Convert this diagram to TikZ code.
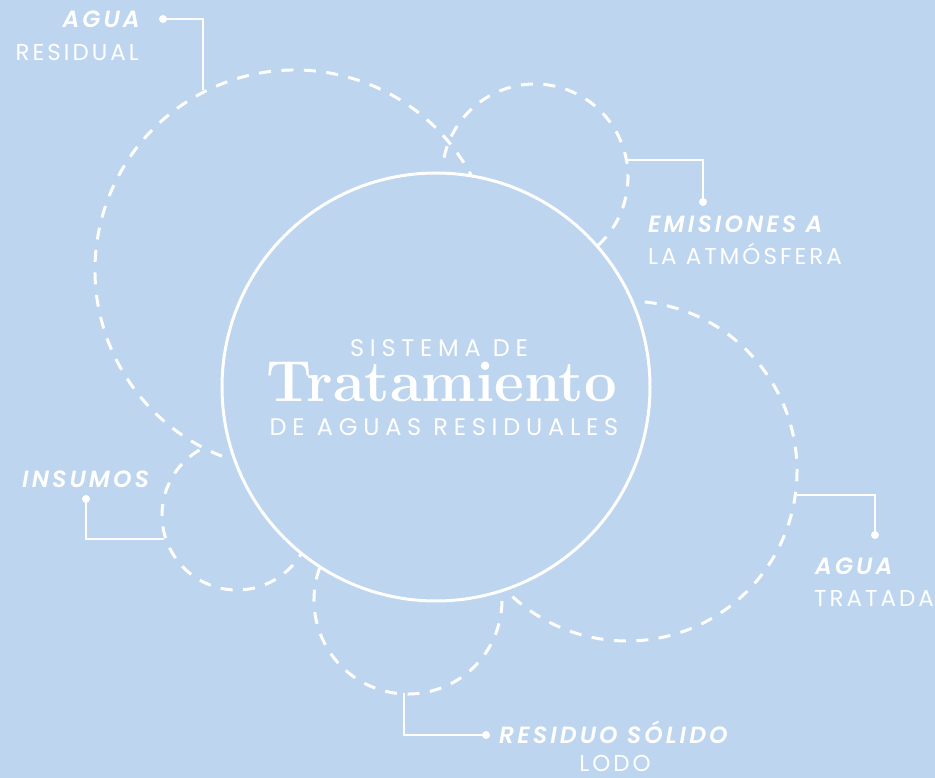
\documentclass[tikz,border=0pt]{standalone}
\usepackage{fontspec}
\setsansfont{Poppins}
\newfontfamily\spaced{Poppins}[LetterSpace=24]
\newfontfamily\lblreg{Poppins}[LetterSpace=13]
\newfontfamily\lblbold{Poppins SemiBold Italic}[LetterSpace=13]
\definecolor{bg}{RGB}{189,213,239}
\begin{document}
\begin{tikzpicture}[x=1pt,y=1pt,
  dashc/.style={white, line width=3pt, dash pattern=on 12pt off 10.5pt},
  conn/.style={white, line width=2pt},
  dotc/.style={circle, fill=white, inner sep=0pt, minimum size=8pt},
  lblB/.style={text=white, font=\lblbold\fontsize{23.5}{26}\selectfont, inner sep=0pt},
  lblR/.style={text=white, font=\lblreg\fontsize{23}{26}\selectfont, inner sep=0pt},
  ctr/.style={text=white, font=\spaced\fontsize{24}{26}\selectfont, inner sep=0pt, text depth=0pt},
]
\fill[bg] (0,0) rectangle (935,-778);
\useasboundingbox (0,0) rectangle (935,-778);

% dashed circles (arcs)
\draw[dashc] (295,-270) ++(26:200pt) arc[start angle=26, end angle=250, radius=200pt];
\draw[dashc] (535,-177) ++(168:93pt) arc[start angle=168, end angle=-50, radius=93pt];
\draw[dashc] (627,-471) ++(84:170pt) arc[start angle=84, end angle=-135, radius=170pt];
\draw[dashc] (408,-600) ++(160:94pt) arc[start angle=160, end angle=366, radius=94pt];
\draw[dashc] (237,-515) ++(120:75pt) arc[start angle=120, end angle=330, radius=75pt];

% main circle
\node[circle, draw=white, line width=3pt, fill=bg, minimum size=428pt, inner sep=0pt] (main) at (436,-387) {};
\node[ctr, anchor=base] (t1) at (439,-356) {SISTEMA DE};
\node[text=white, font=\rmfamily\bfseries\fontsize{58}{60}\selectfont, inner sep=0pt, text height=40pt, anchor=base] (t2) at (441.5,-401) {Tratamiento};
\node[ctr, anchor=base] (t3) at (444,-435) {DE AGUAS RESIDUALES};

% connectors
\node[dotc] (d1) at (163,-19) {};
\coordinate (c1) at (203,-90);
\draw[conn] (d1.center) -| (c1);
\coordinate (c2) at (628,-160);
\node[dotc] (d2) at (703,-202) {};
\draw[conn] (c2) -| (d2.center);
\coordinate (c3) at (797,-495);
\node[dotc] (d3) at (875,-535) {};
\draw[conn] (c3) -| (d3.center);
\node[dotc] (d4) at (86,-499) {};
\coordinate (c4) at (164,-539);
\draw[conn] (d4.center) |- (c4);
\coordinate (c5) at (404,-693);
\node[dotc] (d5) at (486,-735) {};
\draw[conn] (c5) |- (d5.center);

% labels
\node[lblB, anchor=base east] (l1a) at (140,-28) {AGUA};
\node[lblR, anchor=base east] (l1b) at (139,-61) {RESIDUAL};
\node[lblB, anchor=base west] (l2a) at (648,-233) {EMISIONES A};
\node[lblR, anchor=base west] (l2b) at (648,-265) {LA ATMÓSFERA};
\node[lblB, anchor=base west] (l3a) at (815,-574) {AGUA};
\node[lblR, anchor=base west] (l3b) at (814,-606) {TRATADA};
\node[lblB, anchor=base west] (l4) at (22,-487) {INSUMOS};
\node[lblB, anchor=base west] (l5a) at (499,-743) {RESIDUO SÓLIDO};
\node[lblR, anchor=base] (l5b) at (615,-771) {LODO};
\end{tikzpicture}
\end{document}
